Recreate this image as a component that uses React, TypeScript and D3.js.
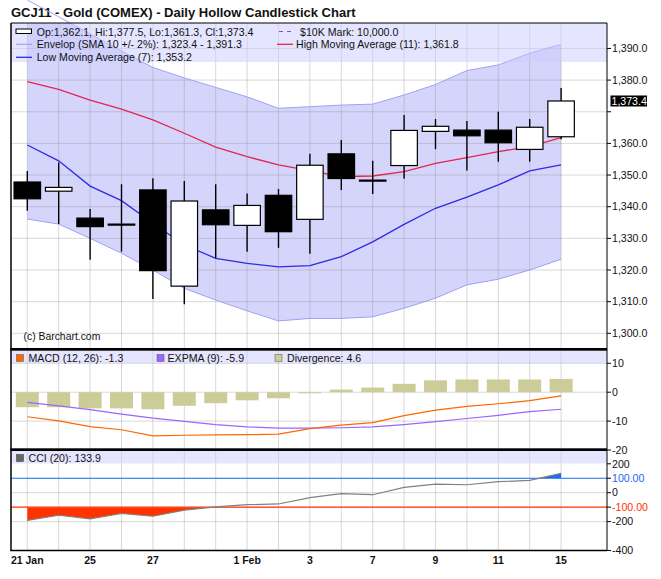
import React from 'react';
import * as d3 from 'd3';

// trading days on the x axis, and the ones that carry a label
const days = ['21 Jan', '24', '25', '26', '27', '28', '31', '1 Feb', '2', '3', '4', '7', '8', '9', '10', '11', '14', '15'];
const dayLabels = ['21 Jan', '25', '27', '1 Feb', '3', '7', '9', '11', '15'];

// OHLC
const opens = [1347.8, 1344.9, 1336.4, 1334.5, 1345.3, 1314.9, 1339.0, 1334.1, 1343.6, 1336.0, 1356.7, 1348.4, 1353.0, 1363.8, 1364.2, 1364.2, 1358.1, 1362.1];
const highs = [1351.3, 1354.0, 1339.3, 1347.1, 1349.0, 1348.1, 1347.1, 1344.2, 1345.6, 1356.7, 1361.1, 1354.5, 1369.0, 1367.7, 1367.1, 1370.0, 1367.7, 1377.5];
const lows = [1338.7, 1334.5, 1323.2, 1325.8, 1310.8, 1309.2, 1323.7, 1325.8, 1327.0, 1325.1, 1345.3, 1344.0, 1348.8, 1358.2, 1351.4, 1354.2, 1354.2, 1361.3];
const closes = [1342.5, 1346.1, 1333.7, 1334.3, 1319.8, 1341.8, 1334.3, 1340.4, 1332.1, 1353.1, 1348.9, 1348.1, 1364.1, 1365.4, 1362.4, 1360.2, 1365.1, 1373.4];

// overlays
const envUpper = [1405.3, 1400.0, 1394.6, 1389.2, 1384.0, 1380.7, 1377.7, 1374.7, 1371.1, 1371.6, 1372.1, 1372.4, 1375.3, 1378.6, 1383.0, 1384.8, 1388.5, 1391.3];
const envLower = [1336.1, 1334.5, 1330.0, 1325.3, 1320.0, 1314.2, 1310.5, 1307.1, 1303.9, 1304.7, 1304.7, 1305.2, 1307.9, 1311.1, 1315.3, 1317.1, 1320.0, 1323.4];
const highMA = [1379.5, 1377.1, 1373.7, 1370.8, 1367.4, 1363.2, 1358.8, 1355.8, 1353.2, 1351.4, 1349.5, 1349.7, 1351.1, 1353.7, 1355.5, 1357.4, 1359.0, 1361.8];
const lowMA = [1359.5, 1354.5, 1346.5, 1341.9, 1334.8, 1327.9, 1323.7, 1322.1, 1321.0, 1321.4, 1324.2, 1328.9, 1334.4, 1339.5, 1343.0, 1346.9, 1351.3, 1353.2];

// MACD panel
const macd = [-8.5, -9.9, -11.9, -13.0, -15.1, -14.9, -14.8, -14.7, -14.5, -12.6, -11.4, -10.5, -8.1, -6.2, -4.9, -4.0, -2.9, -1.3];
const expma = [-3.5, -4.7, -6.0, -7.6, -9.0, -10.1, -11.2, -12.0, -12.4, -12.4, -12.3, -12.0, -11.2, -10.2, -9.1, -8.0, -6.7, -5.9];
const divergence = [-5.2, -5.2, -5.6, -5.6, -5.9, -4.7, -3.8, -2.8, -2.1, -0.4, 0.9, 1.6, 2.9, 4.1, 4.4, 4.4, 4.4, 4.6];

// CCI panel
const cci = [-192, -156, -181, -144, -163, -121, -98, -83, -78, -34, -7, -14, 37, 60, 55, 76, 85, 133.9];

// axis ticks
const priceTicks = [1300, 1310, 1320, 1330, 1340, 1350, 1360, 1370, 1380, 1390];
const macdTicks = [10, 0, -10, -20];
const cciTicks = [200, 100, 0, -100, -200, -400];
const cciTickLabels = ['200', '100.00', '0', '-100.00', '-200', '-400'];

const FONT = '"Liberation Sans", Arial, sans-serif';
const L = 11;
const R = 607;
const mainTop = 23, mainBottom = 348;
const macdTop = 350.7, macdBottom = 448.3;
const cciTop = 451, cciBottom = 550.5;

const App: React.FC = () => {
  const x = d3.scalePoint<string>().domain(days).range([27.3, 561.1]);
  const xi = (i: number) => x(days[i]) as number;
  const yP = d3.scaleLinear().domain([1300, 1390]).range([333.3, 48.45]);
  const yM = d3.scaleLinear().domain([-20, 10]).range([450, 363.3]);
  const yC = d3.scaleLinear().domain([-400, 200]).range([550.5, 463.8]);
  const fmt = d3.format(',.1f');

  const priceLine = d3.line<number>().x((_, i) => xi(i)).y(d => yP(d));
  const envArea = d3.area<number>().x((_, i) => xi(i)).y0((_, i) => yP(envLower[i])).y1(d => yP(d));
  const macdLine = d3.line<number>().x((_, i) => xi(i)).y(d => yM(d));
  const cciLine = d3.line<number>().x((_, i) => xi(i)).y(d => yC(d));
  const cciLowArea = d3.area<number>().x((_, i) => xi(i)).y0(yC(-100)).y1(d => yC(d));
  const cciHighArea = d3.area<number>().x((_, i) => xi(i)).y0(yC(100)).y1(d => yC(d));

  const bodyW = 26.5;
  const barW = 23;
  const last = closes[closes.length - 1];
  const grid = { stroke: '#808080', strokeOpacity: 0.3, strokeWidth: 1 };

  return (
    <div style={{ position: 'absolute', left: 0, top: 0 }}>
      <svg width={661} height={579} style={{ display: 'block', background: '#fff' }} fontFamily={FONT}>
        <defs>
          <clipPath id="mainClip"><rect x={L} y={mainTop} width={R - L} height={mainBottom - mainTop} /></clipPath>
          <clipPath id="cciLow"><rect x={L} y={yC(-100)} width={R - L} height={cciBottom - yC(-100)} /></clipPath>
          <clipPath id="cciHigh"><rect x={L} y={cciTop} width={R - L} height={yC(100) - cciTop} /></clipPath>
        </defs>

        <text x={11} y={16.7} fontSize={13} fontWeight="bold" fill="#111">GCJ11 - Gold (COMEX) - Daily Hollow Candlestick Chart</text>

        {/* main price panel */}
        <path d={envArea(envUpper) || ''} fill="#d5d5fb" clipPath="url(#mainClip)" />
        {priceTicks.map(t => (
          <line key={'pg' + t} x1={L} x2={R} y1={yP(t)} y2={yP(t)} {...grid} />
        ))}
        {days.map(d => (
          <line key={'vg' + d} x1={x(d)} x2={x(d)} y1={mainTop} y2={mainBottom} {...grid} />
        ))}
        <path d={priceLine(envUpper) || ''} fill="none" stroke="#a0a0f5" strokeWidth={1} />
        <path d={priceLine(envLower) || ''} fill="none" stroke="#a0a0f5" strokeWidth={1} clipPath="url(#mainClip)" />
        <path d={priceLine(highMA) || ''} fill="none" stroke="#e2264f" strokeWidth={1.3} />
        <path d={priceLine(lowMA) || ''} fill="none" stroke="#2b2be6" strokeWidth={1.3} />

        {days.map((d, i) => {
          const o = opens[i], c = closes[i];
          const top = yP(Math.max(o, c));
          const h = Math.max(1, yP(Math.min(o, c)) - top);
          const up = c >= o;
          return (
            <g key={'c' + d}>
              <line x1={xi(i)} x2={xi(i)} y1={yP(highs[i])} y2={yP(lows[i])} stroke="#000" strokeWidth={1.4} />
              <rect x={xi(i) - bodyW / 2} y={top} width={bodyW} height={h}
                fill={up ? '#fff' : '#000'} stroke="#000" strokeWidth={1.2} />
            </g>
          );
        })}

        <text x={23.5} y={339.5} fontSize={10.4} fill="#111">(c) Barchart.com</text>

        {/* main legend */}
        <rect x={L} y={mainTop} width={R - L} height={39} fill="#ccccff" fillOpacity={0.5} />
        <rect x={16} y={29} width={15.5} height={4.5} fill="#fff" stroke="#000" strokeWidth={1} />
        <line x1={16} x2={32} y1={44.3} y2={44.3} stroke="#a0a0f5" strokeWidth={1.2} />
        <line x1={16} x2={32} y1={57.3} y2={57.3} stroke="#2b2be6" strokeWidth={1.3} />
        <line x1={279} x2={295} y1={31.5} y2={31.5} stroke="#a040d0" strokeWidth={1.2} strokeDasharray="4,4" />
        <line x1={277} x2={293} y1={44.3} y2={44.3} stroke="#e2264f" strokeWidth={1.3} />
        <g fontSize={10.6} fill="#111">
          <text x={36.7} y={35.5}>Op:1,362.1, Hi:1,377.5, Lo:1,361.3, Cl:1,373.4</text>
          <text x={36.7} y={48.3}>Envelop (SMA 10 +/- 2%): 1,323.4 - 1,391.3</text>
          <text x={36.7} y={61}>Low Moving Average (7): 1,353.2</text>
          <text x={300} y={35.5}>$10K Mark: 10,000.0</text>
          <text x={296} y={48.3}>High Moving Average (11): 1,361.8</text>
        </g>

        {/* price axis */}
        {priceTicks.map(t => (
          <g key={'pt' + t}>
            <line x1={R} x2={R + 4} y1={yP(t)} y2={yP(t)} stroke="#000" />
            {Math.abs(yP(t) - yP(last)) > 11 && (
              <text x={612} y={yP(t)} dy="0.35em" fontSize={10.6} fill="#111">{fmt(t)}</text>
            )}
          </g>
        ))}
        <rect x={610.5} y={yP(last) - 5.5} width={36.5} height={11} fill="#000" />
        <text x={611.5} y={yP(last)} dy="0.35em" fontSize={10.6} fill="#fff">{fmt(last)}</text>

        {/* MACD panel */}
        {macdTicks.slice(0, 3).map(t => (
          <line key={'mg' + t} x1={L} x2={R} y1={yM(t)} y2={yM(t)} {...grid} />
        ))}
        {days.map(d => (
          <line key={'mv' + d} x1={x(d)} x2={x(d)} y1={macdTop} y2={macdBottom} {...grid} />
        ))}
        {divergence.map((v, i) => (
          <rect key={'dv' + i} x={xi(i) - barW / 2} y={Math.min(yM(v), yM(0))} width={barW}
            height={Math.abs(yM(v) - yM(0))} fill="#cccc99" />
        ))}
        <path d={macdLine(expma) || ''} fill="none" stroke="#9966ff" strokeWidth={1.2} />
        <path d={macdLine(macd) || ''} fill="none" stroke="#ff6600" strokeWidth={1.2} />
        <rect x={L} y={macdTop} width={R - L} height={12.5} fill="#ccccff" fillOpacity={0.5} />
        <g fontSize={10.6} fill="#111">
          <rect x={16.5} y={354.5} width={7} height={7} fill="#ff6600" stroke="#555" strokeWidth={0.5} />
          <text x={28.5} y={361.5}>MACD (12, 26): -1.3</text>
          <rect x={157} y={354.5} width={7} height={7} fill="#9966ff" stroke="#555" strokeWidth={0.5} />
          <text x={167.5} y={361.5}>EXPMA (9): -5.9</text>
          <rect x={275} y={354.5} width={7} height={7} fill="#cccc99" stroke="#555" strokeWidth={0.5} />
          <text x={287} y={361.5}>Divergence: 4.6</text>
        </g>
        {macdTicks.map(t => (
          <g key={'mt' + t}>
            <line x1={R} x2={R + 4} y1={yM(t)} y2={yM(t)} stroke="#000" />
            <text x={612} y={yM(t)} dy="0.35em" fontSize={10.6} fill="#111">{t}</text>
          </g>
        ))}

        {/* CCI panel */}
        {[0, -200].map(t => (
          <line key={'cg' + t} x1={L} x2={R} y1={yC(t)} y2={yC(t)} {...grid} />
        ))}
        {days.map(d => (
          <line key={'cv' + d} x1={x(d)} x2={x(d)} y1={cciTop} y2={cciBottom} {...grid} />
        ))}
        <path d={cciLowArea(cci) || ''} fill="#ff3300" clipPath="url(#cciLow)" />
        <path d={cciHighArea(cci) || ''} fill="#1a6cf0" clipPath="url(#cciHigh)" />
        <line x1={L} x2={R} y1={yC(100)} y2={yC(100)} stroke="#1a6cf0" strokeWidth={1.2} />
        <line x1={L} x2={R} y1={yC(-100)} y2={yC(-100)} stroke="#ff3300" strokeWidth={1.2} />
        <path d={cciLine(cci) || ''} fill="none" stroke="#808080" strokeWidth={1.2} />
        <rect x={L} y={cciTop} width={R - L} height={12.5} fill="#ccccff" fillOpacity={0.5} />
        <rect x={16.5} y={454.5} width={7} height={7} fill="#666" stroke="#333" strokeWidth={0.5} />
        <text x={28.5} y={461.7} fontSize={10.6} fill="#111">CCI (20): 133.9</text>
        {cciTicks.map((t, i) => (
          <g key={'ct' + t}>
            <line x1={R} x2={R + 4} y1={yC(t)} y2={yC(t)} stroke="#000" />
            <text x={612} y={yC(t)} dy="0.35em" fontSize={10.6}
              fill={t === 100 ? '#1a6cf0' : t === -100 ? '#ff3300' : '#111'}>{cciTickLabels[i]}</text>
          </g>
        ))}

        {/* frame and separators */}
        <line x1={L} x2={R} y1={mainTop} y2={mainTop} stroke="#000" strokeWidth={1} />
        <line x1={L} x2={L} y1={mainTop} y2={cciBottom} stroke="#000" strokeWidth={1.5} />
        <line x1={R} x2={R} y1={mainTop} y2={cciBottom + 0.5} stroke="#000" strokeWidth={1} />
        <rect x={L - 0.7} y={mainBottom} width={R - L + 0.7} height={2.7} fill="#000" />
        <rect x={L - 0.7} y={macdBottom} width={R - L + 0.7} height={2.7} fill="#000" />
        <line x1={L - 0.7} x2={R} y1={cciBottom} y2={cciBottom} stroke="#000" strokeWidth={1.5} />

        {/* date labels */}
        {dayLabels.map(d => (
          <text key={'xl' + d} x={x(d)} y={564} textAnchor="middle" fontSize={10.5} fontWeight="bold" fill="#111">{d}</text>
        ))}
      </svg>
    </div>
  );
};

export default App;
